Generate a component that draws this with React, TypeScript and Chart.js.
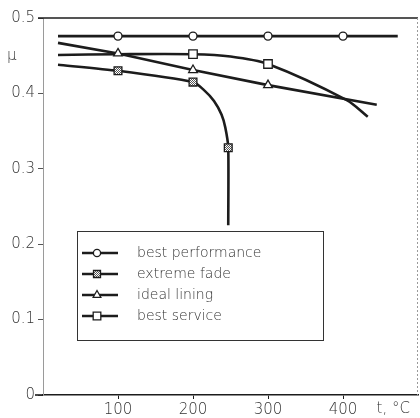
import React, { useEffect, useRef } from "react";
import { Chart, registerables } from "chart.js";

Chart.register(...registerables);

// ---- data ----
const SERIES_NAMES = ["best performance", "extreme fade", "ideal lining", "best service"];

const BEST_PERF_X = [20, 100, 200, 300, 400, 473];
const BEST_PERF_Y = [0.476, 0.476, 0.476, 0.476, 0.476, 0.476];
const BEST_PERF_MARK = [0, 1, 1, 1, 1, 0];

const FADE_X = [20, 100, 200, 214, 228, 238, 243, 247, 247];
const FADE_Y = [0.438, 0.43, 0.415, 0.405, 0.39, 0.372, 0.355, 0.328, 0.225];
const FADE_MARK = [0, 1, 1, 0, 0, 0, 0, 1, 0];

const IDEAL_X = [20, 100, 200, 300, 445];
const IDEAL_Y = [0.467, 0.453, 0.431, 0.411, 0.385];
const IDEAL_MARK = [0, 1, 1, 1, 0];

const SERVICE_X = [20, 100, 200, 250, 300, 405, 433];
const SERVICE_Y = [0.451, 0.452, 0.452, 0.449, 0.439, 0.391, 0.369];
const SERVICE_MARK = [0, 0, 1, 0, 1, 0, 0];

const X_TICKS = [100, 200, 300, 400];
const X_TICK_LABELS = ["100", "200", "300", "400"];
const X_UNIT_LABEL = "t, °C";
const X_UNIT_POS = 467;
const Y_UNIT_LABEL = "μ";
const Y_UNIT_POS = 0.45;

const INK = "#1c1c1c";
const TEXT = "#333333";
const FONT = "'DejaVu Sans', sans-serif";
const WEIGHT = "200";

function zip(xs: number[], ys: number[]) {
  return xs.map((x, i) => ({ x, y: ys[i] }));
}

function makePattern(): CanvasPattern | string {
  const c = document.createElement("canvas");
  c.width = 2;
  c.height = 2;
  const g = c.getContext("2d");
  if (!g) return "#888";
  g.fillStyle = "#ffffff";
  g.fillRect(0, 0, 2, 2);
  g.fillStyle = "#555555";
  g.fillRect(0, 0, 1, 1);
  g.fillRect(1, 1, 1, 1);
  const p = g.createPattern(c, "repeat");
  return p || "#888";
}

function drawMarker(ctx: CanvasRenderingContext2D, style: string, x: number, y: number, r: number, fill: any) {
  ctx.save();
  ctx.beginPath();
  if (style === "circle") {
    ctx.arc(x, y, r, 0, Math.PI * 2);
  } else if (style === "rect") {
    const s = r * Math.SQRT1_2;
    ctx.rect(x - s, y - s, 2 * s, 2 * s);
  } else if (style === "triangle") {
    const h = r * 1.5;
    ctx.moveTo(x, y - h * 0.66);
    ctx.lineTo(x + r * 0.85, y + h * 0.34);
    ctx.lineTo(x - r * 0.85, y + h * 0.34);
    ctx.closePath();
  }
  ctx.fillStyle = fill;
  ctx.fill();
  ctx.lineWidth = 1.3;
  ctx.strokeStyle = INK;
  ctx.stroke();
  ctx.restore();
}

export default function App() {
  const ref = useRef<HTMLCanvasElement | null>(null);

  useEffect(() => {
    if (!ref.current) return;
    const hatch = makePattern();

    const defs = [
      { name: SERIES_NAMES[0], xs: BEST_PERF_X, ys: BEST_PERF_Y, mark: BEST_PERF_MARK, style: "circle", r: 4, fill: "#ffffff", tension: 0 },
      { name: SERIES_NAMES[1], xs: FADE_X, ys: FADE_Y, mark: FADE_MARK, style: "rect", r: 5.5, fill: hatch, tension: 0.2 },
      { name: SERIES_NAMES[2], xs: IDEAL_X, ys: IDEAL_Y, mark: IDEAL_MARK, style: "triangle", r: 5, fill: "#ffffff", tension: 0 },
      { name: SERIES_NAMES[3], xs: SERVICE_X, ys: SERVICE_Y, mark: SERVICE_MARK, style: "rect", r: 6, fill: "#ffffff", tension: 0.3 },
    ];

    const frame = {
      id: "frame",
      afterDraw(chart: any) {
        const { ctx, chartArea } = chart;
        const { left, right, top, bottom } = chartArea;
        ctx.save();
        // top solid line
        ctx.strokeStyle = INK;
        ctx.lineWidth = 1.4;
        ctx.beginPath();
        ctx.moveTo(left - 5, top);
        ctx.lineTo(right, top);
        ctx.stroke();
        // bottom axis extends a little to the left
        ctx.lineWidth = 1.6;
        ctx.beginPath();
        ctx.moveTo(left - 8, bottom);
        ctx.lineTo(left, bottom);
        ctx.stroke();
        // right dotted border
        ctx.strokeStyle = "#9a9a9a";
        ctx.lineWidth = 1;
        ctx.setLineDash([2, 2]);
        ctx.beginPath();
        ctx.moveTo(right - 0.5, top);
        ctx.lineTo(right - 0.5, bottom);
        ctx.stroke();
        ctx.setLineDash([]);
        // unit labels
        ctx.fillStyle = TEXT;
        ctx.font = `${WEIGHT} 15px ${FONT}`;
        ctx.textBaseline = "middle";
        ctx.textAlign = "left";
        const yS = chart.scales.y;
        ctx.fillText(Y_UNIT_LABEL, 7, yS.getPixelForValue(Y_UNIT_POS));
        const xS = chart.scales.x;
        ctx.textAlign = "center";
        ctx.fillText(X_UNIT_LABEL, xS.getPixelForValue(X_UNIT_POS), 409);

        // legend box
        const bx = 77, by = 231, bw = 246, bh = 109;
        ctx.strokeStyle = "#333";
        ctx.lineWidth = 1;
        ctx.strokeRect(bx + 0.5, by + 0.5, bw, bh);
        const rows = [253, 274, 295, 316];
        defs.forEach((d, i) => {
          const y = rows[i];
          ctx.strokeStyle = INK;
          ctx.lineWidth = 2.5;
          ctx.beginPath();
          ctx.moveTo(82, y);
          ctx.lineTo(118, y);
          ctx.stroke();
          drawMarker(ctx, d.style, 97, y, d.r * 0.9, d.fill);
          ctx.fillStyle = TEXT;
          ctx.font = `${WEIGHT} 14px ${FONT}`;
          ctx.textAlign = "left";
          ctx.textBaseline = "middle";
          ctx.fillText(d.name, 137, y);
        });
        ctx.restore();
      },
    };

    const chart = new Chart(ref.current, {
      type: "line",
      data: {
        datasets: defs.map((d) => ({
          label: d.name,
          data: zip(d.xs, d.ys),
          borderColor: INK,
          borderWidth: 2.6,
          tension: d.tension,
          pointStyle: d.style as any,
          pointRadius: d.mark.map((m) => (m ? d.r : 0)),
          pointBackgroundColor: d.fill as any,
          pointBorderColor: INK,
          pointBorderWidth: 1.3,
          fill: false,
        })),
      },
      options: {
        animation: false,
        responsive: false,
        devicePixelRatio: 1,
        layout: { padding: { top: 18, right: 2, left: 0, bottom: 0 } },
        plugins: { legend: { display: false }, tooltip: { enabled: false } },
        scales: {
          x: {
            type: "linear",
            min: 0,
            max: 500,
            afterFit: (s: any) => {
              s.height = 23;
            },
            afterBuildTicks: (s: any) => {
              s.ticks = X_TICKS.map((v) => ({ value: v }));
            },
            ticks: {
              autoSkip: false,
              maxRotation: 0,
              padding: 2,
              color: TEXT,
              font: { family: FONT, size: 15, weight: WEIGHT as any },
              callback: (_v: any, i: number) => X_TICK_LABELS[i],
            },
            grid: { drawOnChartArea: false, drawTicks: true, tickLength: 4, color: INK },
            border: { display: true, color: INK, width: 1.6 },
          },
          y: {
            min: 0,
            max: 0.5,
            afterFit: (s: any) => {
              s.width = 43;
            },
            ticks: {
              stepSize: 0.1,
              padding: 3,
              color: TEXT,
              font: { family: FONT, size: 15, weight: WEIGHT as any },
            },
            grid: { drawOnChartArea: false, drawTicks: true, tickLength: 5, color: "#555" },
            border: { display: true, color: "#9a9a9a", width: 1, dash: [2, 2] },
          },
        },
      },
      plugins: [frame],
    });
    return () => chart.destroy();
  }, []);

  return (
    <div style={{ position: "absolute", left: 0, top: 0, width: 420, height: 418, background: "#fff" }}>
      <canvas ref={ref} width={420} height={418} />
    </div>
  );
}
